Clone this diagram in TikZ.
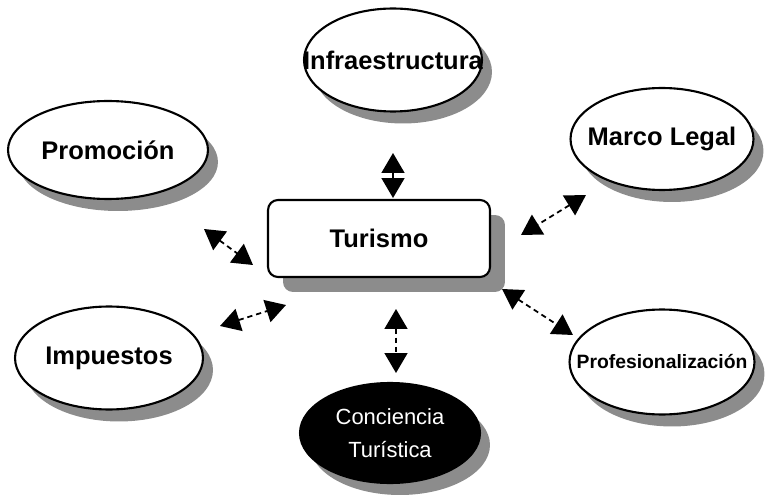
\documentclass[tikz,border=0pt]{standalone}
\usepackage{fontspec}
\setmainfont{Liberation Sans}
\usepackage{tikz}
\usetikzlibrary{arrows.meta,shapes.geometric,shadows}

\begin{document}
\begin{tikzpicture}[x=0.02cm, y=-0.02cm,
  factor/.style={ellipse, draw, line width=1.2pt, fill=white, inner sep=0pt,
    drop shadow={shadow xshift=0.2cm, shadow yshift=-0.24cm, fill=black, opacity=.45}},
  darkfactor/.style={factor, fill=black},
  hubbox/.style={draw, line width=1.2pt, fill=white, rounded corners=0.2cm,
    minimum width=4.44cm, minimum height=1.54cm,
    drop shadow={shadow xshift=0.3cm, shadow yshift=-0.3cm, fill=black, opacity=.45}},
  bigtext/.style={font=\fontsize{14.5}{17}\selectfont\bfseries},
  smalltext/.style={font=\fontsize{11}{13}\selectfont\bfseries},
  link/.style={line width=1pt, dash pattern=on 3pt off 2.2pt,
    {Triangle[length=4mm,width=4.6mm]}-{Triangle[length=4mm,width=4.6mm]}}]

\useasboundingbox (0,0) rectangle (767,503);

% centre
\node[hubbox, bigtext] (turismo) at (379,238.5) {Turismo};

% factors
\node[factor, minimum width=3.56cm, minimum height=2.06cm,
  label={[bigtext]center:Infraestructura}] (infra) at (393,60) {};
\node[factor, minimum width=4.0cm, minimum height=1.96cm,
  label={[bigtext]center:Promoción}] (promo) at (108,150) {};
\node[factor, minimum width=3.66cm, minimum height=2.04cm,
  label={[bigtext]center:Marco Legal}] (legal) at (662,139) {};
\node[factor, minimum width=3.76cm, minimum height=2.06cm,
  label={[bigtext]center:Impuestos}] (impuestos) at (109,358) {};
\node[factor, minimum width=3.70cm, minimum height=2.10cm,
  label={[smalltext]center:Profesionalización}] (prof) at (662,362) {};
\node[darkfactor, minimum width=3.60cm, minimum height=2.00cm,
  label={[align=center, text=white, font=\fontsize{12.5}{19}\selectfont]center:Conciencia\\Turística}]
  (conciencia) at (390,433) {};

% arrow ends
\coordinate (infraA) at (393,153);
\coordinate (infraB) at (393,198);
\coordinate (promoA) at (204,229);
\coordinate (promoB) at (253,265);
\coordinate (legalA) at (586,195);
\coordinate (legalB) at (521,235);
\coordinate (impA) at (220,326);
\coordinate (impB) at (286,305);
\coordinate (profA) at (502,289);
\coordinate (profB) at (573,335);
\coordinate (concA) at (396,309);
\coordinate (concB) at (396,373);

\draw[link] (infraA) -- (infraB);
\draw[link] (promoA) -- (promoB);
\draw[link] (legalA) -- (legalB);
\draw[link] (impA) -- (impB);
\draw[link] (profA) -- (profB);
\draw[link] (concA) -- (concB);
\end{tikzpicture}
\end{document}
